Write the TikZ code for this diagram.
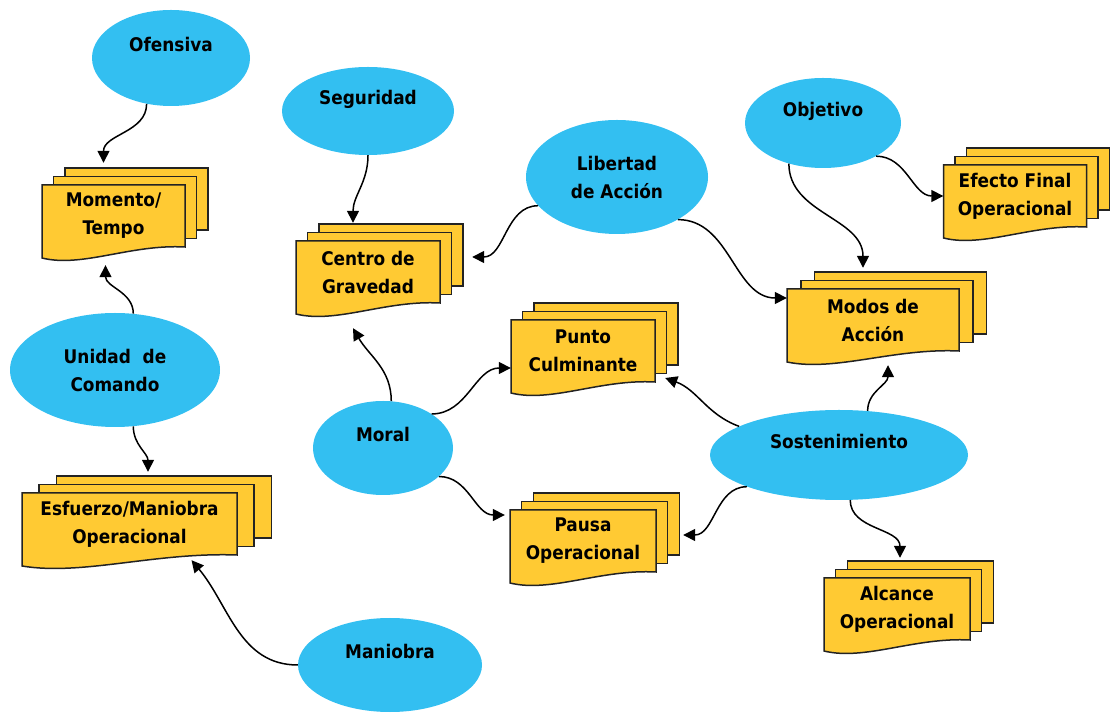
\documentclass[tikz,border=0pt]{standalone}
\usepackage{fontspec}
\newfontfamily\diagfont{DejaVu Sans Condensed Bold}
\usetikzlibrary{shapes.geometric,arrows.meta}

\definecolor{ideablue}{RGB}{51,191,241}
\definecolor{pageyellow}{RGB}{255,202,51}
\definecolor{pageline}{RGB}{35,35,35}

% three stacked pages, the front one with a wavy bottom
\newcommand{\docstack}[5]{%
  \begin{scope}[shift={(#2,#3)}]
    \foreach \k in {2,1}
      \draw[page] ({-#4/2+0.08*#4*\k},{-31+8.5*\k}) rectangle ({#4/2+0.08*#4*\k},{31+8.5*\k});
    \draw[page] ({-#4/2},31) -- ({#4/2},31) -- ({#4/2},-31)
      .. controls ({0.12*#4},-28) and ({-0.22*#4},-52) .. ({-#4/2},-42) -- cycle;
  \end{scope}
  \node[doc text, minimum width=#4pt] (#1) at (#2,#3) {#5};
}

\begin{document}
\begin{tikzpicture}[x=1pt, y=1pt,
                    idea/.style={ellipse, fill=ideablue, inner sep=0pt, align=center,
                                 font=\diagfont\fontsize{18.8}{28}\selectfont},
                    idea up/.style={idea, text height=14pt, text depth=26pt},
                    page/.style={fill=pageyellow, draw=pageline, line width=1.5pt},
                    doc text/.style={minimum height=62pt, inner sep=0pt, align=center,
                                     font=\diagfont\fontsize{18.8}{28}\selectfont},
                    link/.style={-{Triangle[length=12pt,width=12pt]}, line width=1.5pt}]

  \useasboundingbox (0,0) rectangle (1110,717);

  \node[idea up, minimum width=158pt, minimum height=96pt] (ofen) at (171,659) {Ofensiva};
  \node[idea up, minimum width=172pt, minimum height=88pt] (segur) at (368,606) {Seguridad};
  \node[idea, minimum width=182pt, minimum height=114pt] (libert) at (617,540) {Libertad\\de Acción};
  \node[idea up, minimum width=156pt, minimum height=90pt] (objet) at (823,594) {Objetivo};
  \node[idea, minimum width=210pt, minimum height=114pt] (unidad) at (115,347) {Unidad~ de\\Comando};
  \node[idea up, minimum width=140pt, minimum height=94pt] (moral) at (383,269) {Moral};
  \node[idea up, minimum width=258pt, minimum height=90pt] (sosten) at (839,262) {Sostenimiento};
  \node[idea up, minimum width=184pt, minimum height=94pt] (maniob) at (390,52) {Maniobra};

  \docstack{momento}{113.5}{501}{143}{Momento/\\Tempo}
  \docstack{centro}{368}{445}{144}{Centro de\\Gravedad}
  \docstack{efecto}{1015}{521}{143}{Efecto Final\\Operacional}
  \docstack{modos}{873}{397}{172}{Modos de\\Acción}
  \docstack{punto}{583}{366}{144}{Punto\\Culminante}
  \docstack{esfuerzo}{129.5}{193}{215}{Esfuerzo/Maniobra\\Operacional}
  \docstack{pausa}{583}{176}{146}{Pausa\\Operacional}
  \docstack{alcance}{897}{108}{146}{Alcance\\Operacional}

  \path[link]
    (ofen.242) edge[out=270, in=90] ([shift={(-10,22)}]momento.north)
    (segur.south) edge[out=270, in=90] ([shift={(-15,18)}]centro.north)
    (libert.200) edge[out=180, in=0] ([shift={(32,15)}]centro.east)
    (libert.-35) edge[out=0, in=180] ([yshift=22pt]modos.west)
    (objet.-32) edge[out=0, in=180] (efecto.west)
    (objet.230) edge[out=270, in=90] ([shift={(-10,21)}]modos.north)

    (unidad.72) edge[out=90, in=270] ([shift={(-8,-18)}]momento.south)
    (unidad.288) edge[out=270, in=90] ([shift={(18.5,21)}]esfuerzo.north)
    (maniob.west) edge[out=180, in=-50] ([shift={(62,-5)}]esfuerzo.south)

    (moral.80) edge[out=90, in=-60] ([shift={(-15,-25)}]centro.south)
    (moral.35) edge[out=0, in=180] ([yshift=-17pt]punto.west)
    (moral.-27) edge[out=0, in=180] ([shift={(-5,26)}]pausa.west)

    (sosten.164) edge[out=160, in=-20] ([shift={(10,-27)}]punto.east)
    (sosten.57) edge[out=90, in=270] ([shift={(15,-14)}]modos.south)
    (sosten.199) edge[out=180, in=0] ([shift={(27,6)}]pausa.east)
    (sosten.284) edge[out=270, in=90] ([shift={(3,20)}]alcance.north);

\end{tikzpicture}
\end{document}
